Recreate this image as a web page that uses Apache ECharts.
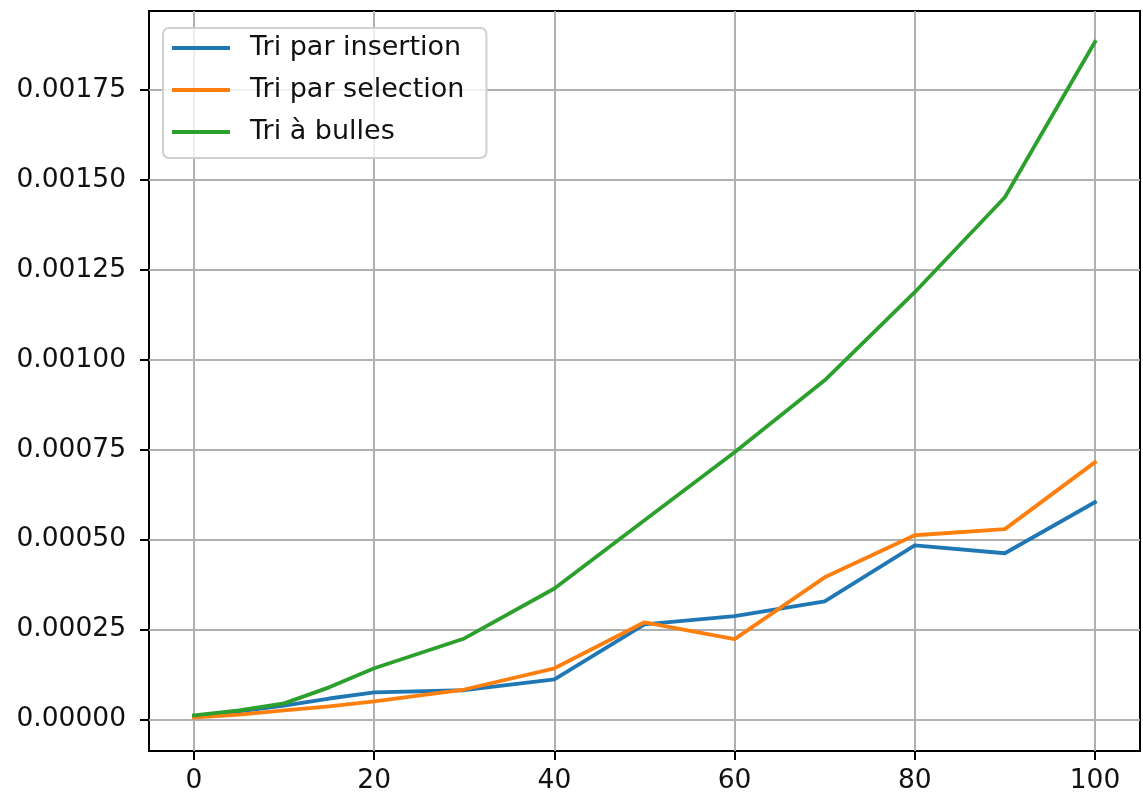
<!DOCTYPE html>
<html>
<head>
<meta charset="utf-8">
<script src="https://cdn.jsdelivr.net/npm/echarts@6/dist/echarts.min.js"></script>
<style>html,body{margin:0;padding:0;background:#fff}#c{width:1143px;height:798px}</style>
</head>
<body>
<div id="c"></div>
<script>
const sizes = [0, 5, 10, 15, 20, 30, 40, 50, 60, 70, 80, 90, 100];
const insertion = [0.000008, 0.000022, 0.000038, 0.000058, 0.000075, 0.000081, 0.000111, 0.000264, 0.000287, 0.000328, 0.000484, 0.000462, 0.000604];
const selection = [0.000005, 0.000013, 0.000025, 0.000036, 0.000050, 0.000083, 0.000142, 0.000270, 0.000223, 0.000395, 0.000512, 0.000529, 0.000715];
const bulles = [0.000011, 0.000025, 0.0000445, 0.000089, 0.000142, 0.000225, 0.000364, 0.000554, 0.000743, 0.000943, 0.001188, 0.001452, 0.001884];
const xTicks = [0, 20, 40, 60, 80, 100];
const yTicks = [0, 0.00025, 0.0005, 0.00075, 0.001, 0.00125, 0.0015, 0.00175];
const names = ['Tri par insertion', 'Tri par selection', 'Tri à bulles'];
const colors = ['#1f77b4', '#ff7f0e', '#2ca02c'];

const font = 'DejaVu Sans';
const fs = 26.5;
const chart = echarts.init(document.getElementById('c'), null, {renderer: 'canvas'});
function pairs(arr) { return sizes.map((s, i) => [s, arr[i]]); }
chart.setOption({
  animation: false,
  backgroundColor: '#fff',
  color: colors,
  grid: {left: 149, right: 3, top: 11, bottom: 47, show: true, borderColor: '#000', borderWidth: 2, backgroundColor: 'transparent', containLabel: false},
  legend: {
    orient: 'vertical', left: 163, top: 28,
    data: names.map(n => ({name: n, icon: 'rect'})),
    itemWidth: 58, itemHeight: 4, itemGap: 12,
    padding: [5, 22, 11, 9],
    backgroundColor: 'rgba(255,255,255,0.8)',
    borderColor: '#d0d0d0', borderWidth: 2, borderRadius: 6,
    textStyle: {fontFamily: font, fontSize: 27, color: '#111', lineHeight: 30, padding: [0, 0, 0, 15]}
  },
  xAxis: {
    type: 'value', min: -5, max: 105,
    axisLine: {show: false, onZero: false},
    axisTick: {show: true, inside: false, length: 9, lineStyle: {color: '#000', width: 2}, customValues: xTicks},
    axisLabel: {show: true, margin: 17, fontFamily: font, fontSize: fs, color: '#111', customValues: xTicks, formatter: v => String(v)},
    splitLine: {show: true, lineStyle: {color: '#b0b0b0', width: 2}}
  },
  yAxis: {
    type: 'value', min: -0.000088, max: 0.00197,
    axisLine: {show: false, onZero: false},
    axisTick: {show: true, inside: false, length: 9, lineStyle: {color: '#000', width: 2}, customValues: yTicks},
    axisLabel: {show: true, margin: 23, fontFamily: font, fontSize: fs, color: '#111', customValues: yTicks, formatter: v => v.toFixed(5)},
    splitLine: {show: true, lineStyle: {color: '#b0b0b0', width: 2}}
  },
  series: names.map((n, k) => ({
    name: n, type: 'line', symbol: 'none', showSymbol: false,
    data: pairs([insertion, selection, bulles][k]),
    lineStyle: {width: 3.8, color: colors[k], cap: 'square', join: 'round'},
    itemStyle: {color: colors[k]}
  }))
});
</script>
</body>
</html>
